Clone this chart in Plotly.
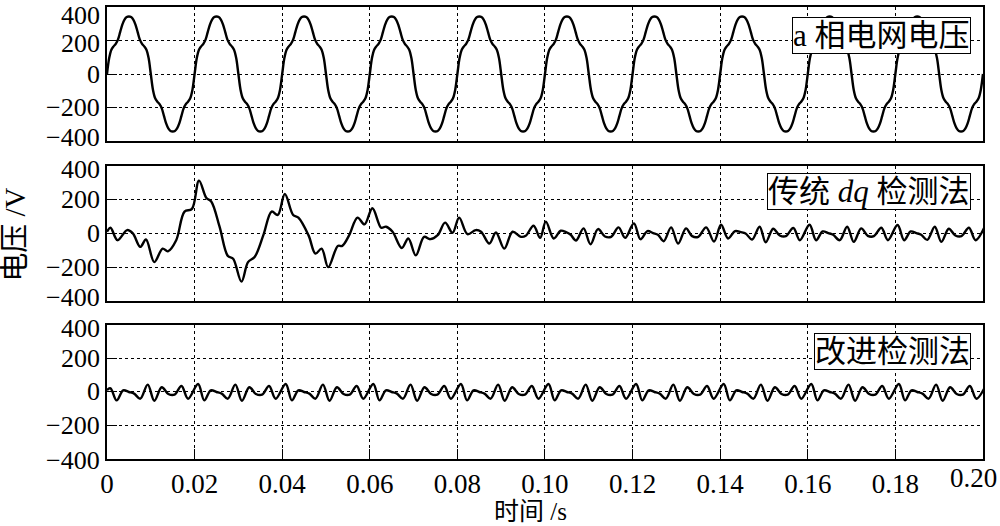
import numpy as np
import plotly.graph_objects as go
from plotly.subplots import make_subplots

# ---------------- data ----------------
PERIOD = 0.02
N_CYCLES = 10
TOP_STEP = 0.0005
# one cycle of phase-a grid voltage (V), every 0.5 ms
TOP_CYCLE_V = [0, 95, 145, 165, 180, 205, 250, 295, 325, 340,
               343, 340, 325, 295, 250, 205, 180, 165, 145, 95,
               0, -95, -145, -165, -180, -205, -250, -295, -325, -340,
               -343, -340, -325, -295, -250, -205, -180, -165, -145, -95]

# traditional dq detection: transient part (0 - 0.1 s)
MID_T1 = [0.0, 0.0008, 0.0024, 0.0046, 0.0059, 0.0076, 0.0089, 0.0108, 0.0127, 0.0139,
          0.0158, 0.0177, 0.0194, 0.0210, 0.0227, 0.0238, 0.0257, 0.0276, 0.0288, 0.0307,
          0.0322, 0.0337, 0.0357, 0.0376, 0.0390, 0.0406, 0.0425, 0.0437, 0.0460, 0.0476,
          0.0490, 0.0505, 0.0527, 0.0537, 0.0553, 0.0572, 0.0588, 0.0606, 0.0626, 0.0637,
          0.0652, 0.0673, 0.0688, 0.0705, 0.0724, 0.0738, 0.0755, 0.0772, 0.0789, 0.0804,
          0.0823, 0.0842, 0.0854, 0.0873, 0.0888, 0.0907, 0.0926, 0.0945, 0.0956, 0.0974,
          0.0989]
MID_V1 = [10, 34, -40, 20, 0, -80, -36, -170, -90, -106,
          -40, 130, 146, 314, 210, 190, 40, -134, -150, -286,
          -170, -140, -10, 130, 110, 234, 110, 94, -10, -120,
          -90, -200, -74, -74, -10, 94, 54, 150, 34, 40,
          10, -86, -30, -130, -20, -34, -10, 64, 4, 94,
          -4, 20, 10, -60, 6, -90, 10, -20, -14, 46,
          -26]
# traditional dq detection: steady part (0.1 - 0.2 s)
MID_T2 = [0.1002, 0.1020, 0.1036, 0.1048, 0.1058, 0.1071, 0.1088, 0.1104, 0.1121, 0.1137, 0.1151, 0.1168, 0.1183,
          0.1203, 0.1218, 0.1234, 0.1247, 0.1258, 0.1271, 0.1288, 0.1304, 0.1322, 0.1336, 0.1350, 0.1368, 0.1386,
          0.1402, 0.1418, 0.1434, 0.1447, 0.1458, 0.1473, 0.1490, 0.1504, 0.1521, 0.1536, 0.1550, 0.1567, 0.1582,
          0.1604, 0.1619, 0.1634, 0.1647, 0.1658, 0.1673, 0.1690, 0.1705, 0.1722, 0.1737, 0.1751, 0.1768, 0.1783,
          0.1805, 0.1820, 0.1835, 0.1848, 0.1859, 0.1873, 0.1890, 0.1905, 0.1922, 0.1937, 0.1951, 0.1968, 0.1983, 0.2005]
MID_V2 = [70, -30, 16, 8, -6, -42, 30, -64, 26, -18, -20, 36, -26,
          60, -34, 14, 2, -8, -46, 36, -60, 30, -16, -20, 36, -48,
          52, -30, 14, 8, 0, -36, 40, -52, 28, -12, -16, 32, -40,
          52, -40, 12, 2, -8, -40, 40, -50, 30, -14, -16, 34, -40,
          50, -40, 12, 2, -8, -38, 40, -50, 28, -12, -16, 34, -40, 46]

# improved detection: start + one repeating cycle (offsets within each 0.02 s period)
BOT_START_T = [0.0, 0.0008]
BOT_START_V = [12, 22]
BOT_CYCLE_T = [0.0022, 0.0037, 0.0050, 0.0062, 0.0076, 0.0093, 0.0108,
               0.0125, 0.0140, 0.0154, 0.0170, 0.0185, 0.0208]
BOT_CYCLE_V = [-50, 10, 0, -10, -40, 44, -52, 28, -12, -16, 36, -40, 48]

Y_TICKS = [-400, -200, 0, 200, 400]
Y_TICK_TEXT = ["\u2212400", "\u2212200", "0", "200", "400"]
X_TICKS = [0, 0.02, 0.04, 0.06, 0.08, 0.10, 0.12, 0.14, 0.16, 0.18, 0.20]
X_TICK_TEXT = ["0", "0.02", "0.04", "0.06", "0.08", "0.10", "0.12", "0.14", "0.16", "0.18", "0.20"]
LABELS = ["a 相电网电压", "传统 <i>dq</i> 检测法", "改进检测法"]
Y_TITLE = "电压 /V"
X_TITLE = "时间 /s"

# ---------------- build series ----------------
top_v = TOP_CYCLE_V * N_CYCLES + [TOP_CYCLE_V[0]]
top_t = list(np.arange(len(top_v)) * TOP_STEP)

mid_t = MID_T1 + MID_T2
mid_v = MID_V1 + MID_V2

bot_t = list(BOT_START_T)
bot_v = list(BOT_START_V)
for k in range(N_CYCLES):
    bot_t += [k * PERIOD + o for o in BOT_CYCLE_T]
    bot_v += BOT_CYCLE_V

# ---------------- figure ----------------
SERIF = "Liberation Serif, 'Noto Sans CJK SC', serif"
YTICK_SIZE = 26
XTICK_SIZE = 27
fig = make_subplots(rows=3, cols=1, shared_xaxes=False, vertical_spacing=0.05)

line = dict(color="black", width=2.4, shape="spline", smoothing=1.0)
for i, (t, v) in enumerate([(top_t, top_v), (mid_t, mid_v), (bot_t, bot_v)]):
    fig.add_trace(go.Scatter(x=t, y=v, mode="lines", line=line, showlegend=False,
                             hoverinfo="skip"), row=i + 1, col=1)

# last x tick label is drawn separately so it stays inside the picture
x_text_axis = X_TICK_TEXT[:-1] + [""]

domains = [[0.7035, 1.0], [0.350, 0.648], [0.0, 0.2965]]
for i in range(3):
    r = i + 1
    last = (r == 3)
    fig.update_xaxes(range=[0, 0.20001], tickvals=X_TICKS, ticktext=x_text_axis,
                     showticklabels=last, ticks="inside" if last else "",
                     ticklen=10, tickwidth=1, tickcolor="black",
                     showgrid=True, gridcolor="black", griddash="dot", gridwidth=1,
                     showline=True, linecolor="black", linewidth=1.5, mirror=True,
                     zeroline=False, automargin=False, ticklabeloverflow="allow",
                     tickfont=dict(family=SERIF, size=XTICK_SIZE, color="black"),
                     row=r, col=1)
    fig.update_yaxes(range=[-400, 400], tickvals=Y_TICKS, showticklabels=False,
                     ticks="inside", ticklen=10, tickwidth=1, tickcolor="black",
                     showgrid=True, gridcolor="black", griddash="dot", gridwidth=1,
                     showline=True, linecolor="black", linewidth=1.5, mirror=True,
                     zeroline=False, domain=domains[i], automargin=False,
                     row=r, col=1)

# y tick labels as text beside each axis (outer ones nudged inward as in the reference)
YREFS = ["y", "y2", "y3"]
YSHIFTS = [{400: -8, 200: -3, 0: 0, -200: 0, -400: 4},
           {400: -3, 200: 0, 0: 0, -200: 0, -400: 3},
           {400: -4, 200: 0, 0: 0, -200: 0, -400: -1}]
for p, yref in enumerate(YREFS):
    for val, txt in zip(Y_TICKS, Y_TICK_TEXT):
        fig.add_annotation(text=txt, xref="paper", yref=yref, x=-0.007, y=val,
                           xanchor="right", yanchor="middle", showarrow=False,
                           yshift=YSHIFTS[p][val], borderpad=0,
                           font=dict(family=SERIF, size=YTICK_SIZE, color="black"))

# final x tick label, right-aligned at the picture edge
fig.add_annotation(text=X_TICK_TEXT[-1], xref="paper", yref="paper", x=1.0171, y=0,
                   xanchor="right", yanchor="top", showarrow=False, yshift=-3, borderpad=0,
                   font=dict(family=SERIF, size=XTICK_SIZE, color="black"))

label_y = [0.938, 0.591, 0.237]
for txt, yy in zip(LABELS, label_y):
    fig.add_annotation(text=txt, xref="paper", yref="paper", x=0.986, y=yy,
                       xanchor="right", yanchor="middle", showarrow=False,
                       font=dict(family=SERIF, size=31, color="black"),
                       bgcolor="white", bordercolor="black", borderwidth=1, borderpad=0)

fig.add_annotation(text=Y_TITLE, xref="paper", yref="paper", x=-0.105, y=0.496,
                   textangle=-90, showarrow=False, xanchor="center", yanchor="middle",
                   font=dict(family=SERIF, size=29, color="black"))
fig.add_annotation(text=X_TITLE, xref="paper", yref="paper", x=0.483, y=-0.1482,
                   showarrow=False, xanchor="center", yanchor="bottom", borderpad=0,
                   font=dict(family=SERIF, size=25, color="black"))

fig.update_layout(width=1000, height=526, margin=dict(l=107, r=17, t=7, b=67, autoexpand=False),
                  plot_bgcolor="white", paper_bgcolor="white")

fig.write_html("out.html", config={"displayModeBar": False},
               post_script="document.body.style.margin='0px';document.body.style.padding='0px';")
